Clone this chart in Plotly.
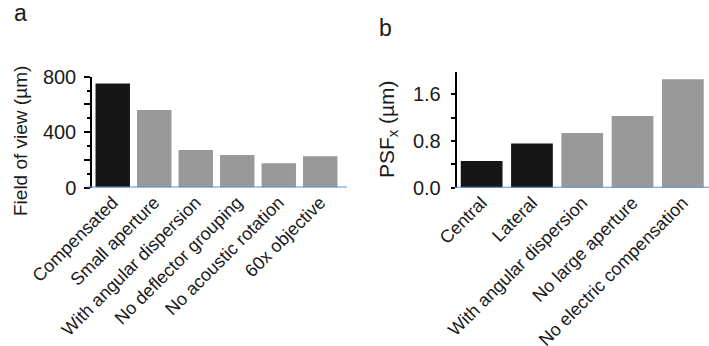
import plotly.graph_objects as go

# Panel a data
cats_a = ["Compensated", "Small aperture", "With angular dispersion",
          "No deflector grouping", "No acoustic rotation", "60x objective"]
vals_a = [750, 560, 270, 235, 175, 225]
colors_a = ["#161616", "#999999", "#999999", "#999999", "#999999", "#999999"]
ytickvals_a = [0, 200, 400, 600, 800]
yticktext_a = ["0", "", "400", "", "800"]

# Panel b data
cats_b = ["Central", "Lateral", "With angular dispersion",
          "No large aperture", "No electric compensation"]
vals_b = [0.46, 0.76, 0.94, 1.23, 1.86]
colors_b = ["#161616", "#161616", "#999999", "#999999", "#999999"]
ytickvals_b = [0, 0.4, 0.8, 1.2, 1.6]
yticktext_b = ["0.0", "", "0.8", "", "1.6"]

W, H = 709, 346
FONT = "Liberation Sans, Arial, sans-serif"
TXT = "#1a1a1a"
BLUE = "#5f8fcf"

fig = go.Figure()
fig.add_trace(go.Bar(x=cats_a, y=vals_a, marker=dict(color=colors_a, line=dict(width=0)),
                     xaxis="x", yaxis="y", showlegend=False))
fig.add_trace(go.Bar(x=cats_b, y=vals_b, marker=dict(color=colors_b, line=dict(width=0)),
                     xaxis="x2", yaxis="y2", showlegend=False))

def px_x(p):
    return p / W

def px_y(p):
    return (H - p) / H

xcommon = dict(showline=False, ticks="", showgrid=False, zeroline=False, automargin=False,
               tickangle=-45, tickfont=dict(family=FONT, size=18, color=TXT))
ycommon = dict(showline=True, linecolor="black", linewidth=1.5, ticks="outside",
               tickcolor="black", tickwidth=1.5, showgrid=False, zeroline=False,
               automargin=False, tickfont=dict(family=FONT, size=20, color=TXT))

fig.update_layout(
    width=W, height=H,
    margin=dict(l=0, r=0, t=0, b=0),
    paper_bgcolor="white", plot_bgcolor="white",
    bargap=0.17,
    xaxis=dict(domain=[px_x(92), px_x(341)], anchor="y", **xcommon),
    yaxis=dict(domain=[px_y(187.5), px_y(76.7)], range=[0, 800], anchor="x",
               tickmode="array", tickvals=ytickvals_a, ticktext=yticktext_a, ticklen=6,
               ticklabelstandoff=4,
               minor=dict(dtick=100, tick0=0, ticks="outside", ticklen=3,
                          tickcolor="black", tickwidth=1.5),
               **ycommon),
    xaxis2=dict(domain=[px_x(456.5), px_x(708)], anchor="y2", **xcommon),
    yaxis2=dict(domain=[px_y(187.7), px_y(71.7)], range=[0, 1.99], anchor="x2",
                tickmode="array", tickvals=ytickvals_b, ticktext=yticktext_b, ticklen=4,
                ticklabelstandoff=6,
                **ycommon),
)

# blue baselines
fig.add_shape(type="line", xref="x domain", yref="y", x0=-0.022, x1=1.024, y0=0, y1=0,
              line=dict(color=BLUE, width=2))
fig.add_shape(type="line", xref="x2 domain", yref="y2", x0=-0.01, x1=1.01, y0=0, y1=0,
              line=dict(color=BLUE, width=2))

ann = dict(xref="paper", yref="paper", showarrow=False, xanchor="center", yanchor="middle")

# y titles
fig.add_annotation(text="Field of view (µm)", textangle=-90, x=px_x(20), y=px_y(141),
                   font=dict(family=FONT, size=19, color=TXT), **ann)
fig.add_annotation(text="PSF<sub>x</sub> (µm)", textangle=-90, x=px_x(388), y=px_y(129),
                   font=dict(family=FONT, size=21, color=TXT), **ann)

# panel letters
fig.add_annotation(text="a", x=px_x(20), y=px_y(13), font=dict(family=FONT, size=23, color=TXT), **ann)
fig.add_annotation(text="b", x=px_x(385), y=px_y(28), font=dict(family=FONT, size=23, color=TXT), **ann)

fig.write_html("out.html", post_script="document.body.style.margin='0';",
               config={"displayModeBar": False})
